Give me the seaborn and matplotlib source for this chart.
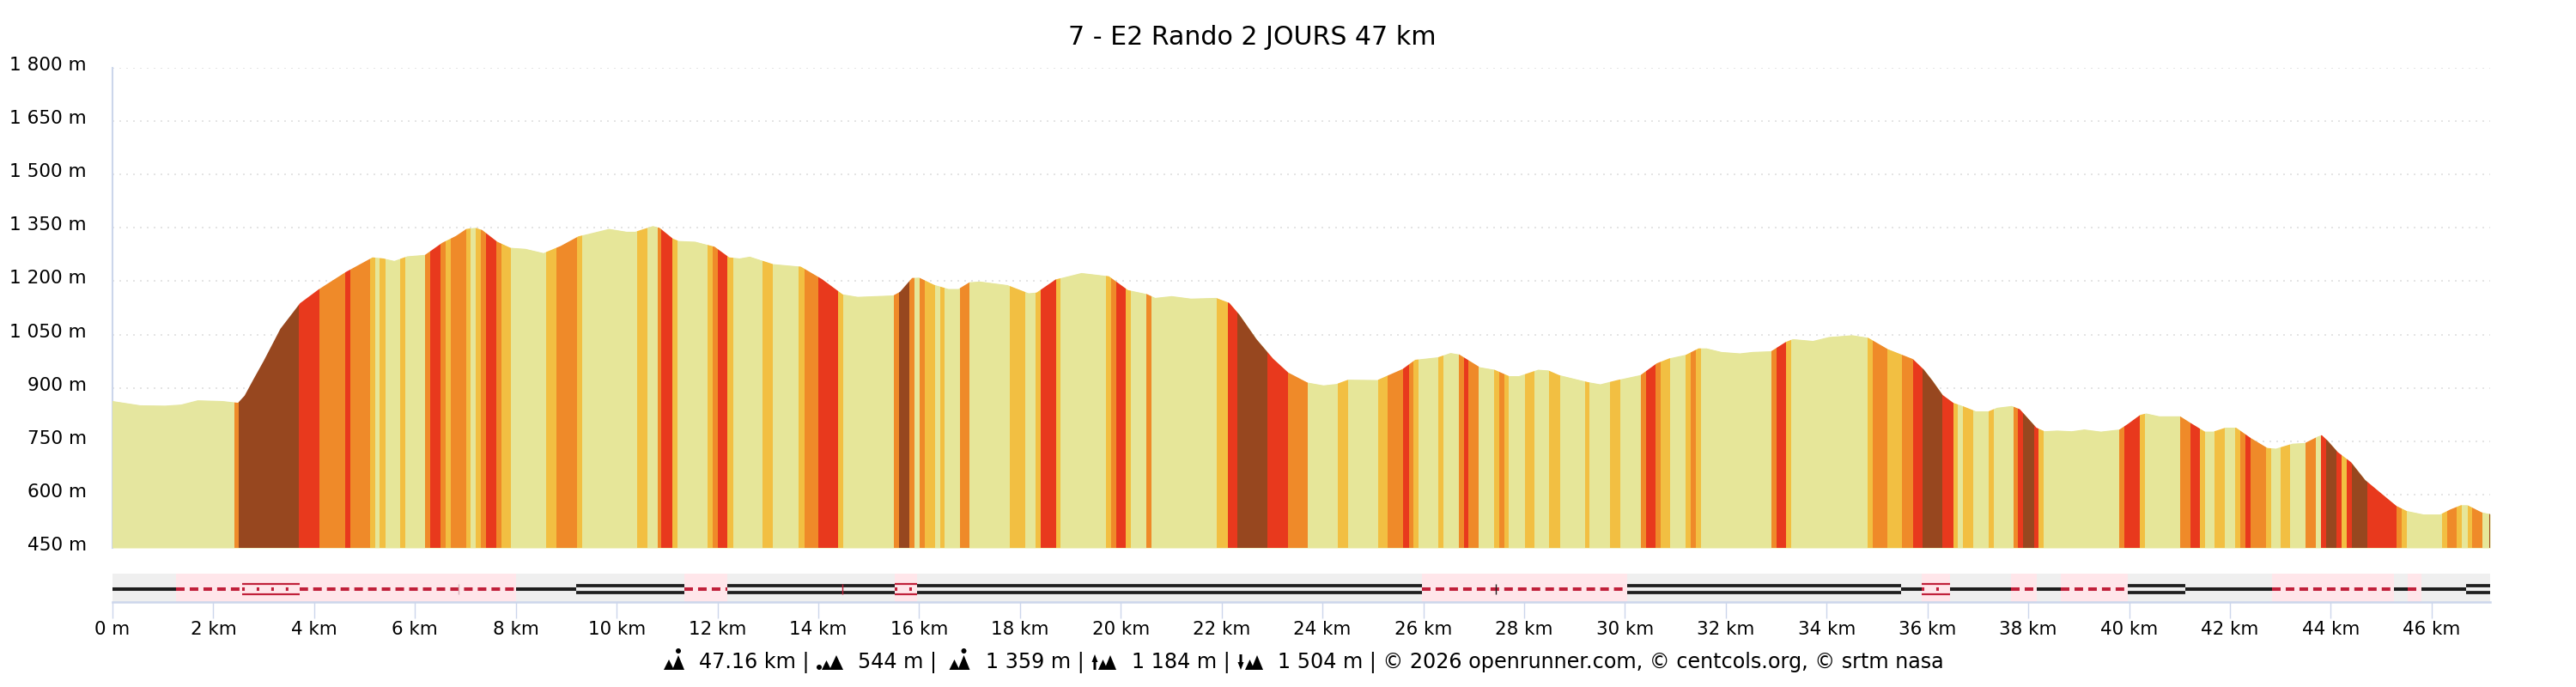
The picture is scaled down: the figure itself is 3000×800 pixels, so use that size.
import numpy as np
import pandas as pd
import matplotlib
matplotlib.use('Agg')
import matplotlib.pyplot as plt
from matplotlib.patches import Polygon, Ellipse
from matplotlib.transforms import ScaledTranslation
import seaborn as sns

# elevation profile
KM = [0, 0.55, 1.04, 1.36, 1.69, 2.18, 2.49, 2.62, 2.8, 3.0, 3.33, 3.72, 4.09, 4.63, 5.16, 5.37, 5.59, 5.85, 6.2,
      6.54, 6.81, 7.02, 7.2, 7.33, 7.63, 7.89, 8.19, 8.55, 8.89, 9.24, 9.85, 10.2, 10.37, 10.72, 10.85, 11.11,
      11.23, 11.56, 11.94, 12.23, 12.44, 12.64, 13.1, 13.65, 14.07, 14.48, 14.78, 15.49, 15.62, 15.86, 16.0,
      16.29, 16.58, 16.78, 17.0, 17.21, 17.75, 18.17, 18.33, 18.71, 19.22, 19.76, 20.14, 20.51, 20.68, 21.01,
      21.39, 21.89, 22.15, 22.35, 22.69, 23.02, 23.32, 23.7, 24.02, 24.28, 24.51, 25.09, 25.59, 25.84, 26.29,
      26.54, 26.71, 27.12, 27.41, 27.7, 27.9, 28.28, 28.48, 28.69, 29.27, 29.51, 29.85, 30.31, 30.63, 30.88,
      31.21, 31.46, 31.62, 31.91, 32.28, 32.53, 32.9, 33.19, 33.33, 33.73, 34.05, 34.51, 34.82, 35.21, 35.71,
      35.93, 36.1, 36.3, 36.51, 36.71, 36.96, 37.21, 37.38, 37.67, 37.83, 38.16, 38.32, 38.57, 38.86, 39.11,
      39.44, 39.81, 39.97, 40.22, 40.34, 40.6, 41.01, 41.21, 41.5, 41.67, 41.91, 42.12, 42.41, 42.74, 42.91,
      43.24, 43.49, 43.74, 43.82, 43.94, 44.14, 44.4, 44.68, 45.01, 45.3, 45.5, 45.84, 46.17, 46.37, 46.58,
      46.71, 46.99, 47.16]
ELEV = [863, 851, 850, 853, 865, 863, 858, 878, 925, 976, 1066, 1138, 1177, 1226, 1267, 1264, 1257, 1270, 1274,
        1308, 1327, 1347, 1350, 1344, 1311, 1294, 1291, 1279, 1299, 1326, 1347, 1339, 1339, 1355, 1350, 1320,
        1313, 1311, 1297, 1267, 1264, 1269, 1248, 1241, 1206, 1163, 1156, 1160, 1170, 1209, 1210,
        1190, 1178, 1178, 1197, 1199, 1189, 1166, 1168, 1205, 1223, 1214, 1175, 1164, 1153, 1158,
        1151, 1153, 1139, 1106, 1037, 982, 943, 915, 907, 911, 923, 922, 953, 979, 986,
        998, 994, 958, 951, 933, 933, 951, 949, 936, 916, 910, 922, 936, 969, 983,
        993, 1011, 1011, 1001, 997, 1001, 1003, 1029, 1037, 1032, 1043, 1048, 1041, 1009, 981,
        951, 920, 880, 858, 848, 834, 834, 844, 849, 840, 788, 778, 780, 778, 783,
        777, 783, 798, 824, 828, 820, 820, 802, 777, 777, 788, 788, 759, 731, 729,
        743, 745, 763, 767, 751, 719, 691, 641, 602, 568, 554, 544, 544, 558, 570,
        570, 550, 545]

# slope classes: where each band ends and what class it is
SEG_END = [2.42, 2.5, 3.7, 4.1, 4.61, 4.71, 5.11, 5.21, 5.3, 5.41, 5.71, 5.81, 6.2, 6.3, 6.51, 6.6, 6.71, 7.01, 7.1,
           7.21, 7.31, 7.41, 7.62, 7.71, 7.9, 8.6, 8.81, 9.21, 9.31, 10.41, 10.61, 10.81, 10.89, 11.11, 11.21,
           11.81, 11.91, 12.0, 12.2, 12.31, 12.9, 13.1, 13.61, 13.72, 14.0, 14.4, 14.5, 15.5, 15.6, 15.81, 15.91,
           16.01, 16.11, 16.31, 16.41, 16.51, 16.81, 17.0, 17.8, 18.11, 18.31, 18.41, 18.71, 18.81, 19.71, 19.81,
           19.91, 20.1, 20.2, 20.51, 20.6, 21.91, 22.12, 22.31, 22.91, 23.32, 23.7, 24.31, 24.5, 25.11, 25.3,
           25.6, 25.71, 25.81, 25.91, 26.3, 26.4, 26.71, 26.8, 26.9, 27.1, 27.41, 27.51, 27.61, 27.7, 28.01,
           28.2, 28.5, 28.71, 29.21, 29.3, 29.7, 29.9, 30.31, 30.41, 30.61, 30.7, 30.9, 31.21, 31.31, 31.41,
           31.5, 32.9, 33.0, 33.2, 33.3, 34.82, 34.91, 35.2, 35.5, 35.71, 35.91, 36.3, 36.51, 36.6, 36.7,
           36.9, 37.21, 37.31, 37.7, 37.8, 37.9, 38.11, 38.2, 38.31, 39.8, 39.91, 40.21, 40.31, 41.01, 41.21,
           41.4, 41.5, 41.7, 41.9, 42.11, 42.2, 42.3, 42.4, 42.71, 42.81, 43.0, 43.2, 43.5, 43.7, 43.8,
           43.9, 44.11, 44.21, 44.31, 44.41, 44.72, 45.3, 45.4, 45.5, 46.21, 46.3, 46.5, 46.6, 46.71, 46.8,
           47.0, 47.15, 47.16]
SEG_CLASS = ['P', 'O', 'B', 'R', 'O', 'R', 'O', 'Y', 'L', 'Y', 'L', 'Y', 'L', 'O', 'R', 'O', 'Y', 'O', 'Y',
             'L', 'Y', 'O', 'R', 'O', 'Y', 'L', 'Y', 'O', 'Y', 'L', 'Y', 'L', 'O', 'R', 'Y',
             'L', 'Y', 'O', 'R', 'Y', 'L', 'Y', 'L', 'Y', 'O', 'R', 'Y', 'L', 'O', 'B', 'O',
             'L', 'O', 'Y', 'L', 'Y', 'L', 'O', 'L', 'Y', 'L', 'Y', 'R', 'Y', 'L', 'Y',
             'O', 'R', 'Y', 'L', 'O', 'L', 'Y', 'R', 'B', 'R', 'O', 'L', 'Y', 'L', 'Y',
             'O', 'R', 'O', 'Y', 'L', 'Y', 'L', 'O', 'R', 'O', 'L', 'Y', 'O', 'Y', 'L',
             'Y', 'L', 'Y', 'L', 'Y', 'L', 'Y', 'L', 'O', 'R', 'O', 'Y', 'L', 'Y', 'O',
             'Y', 'L', 'O', 'R', 'Y', 'L', 'Y', 'O', 'Y', 'O', 'R', 'B', 'R', 'Y', 'L',
             'Y', 'L', 'Y', 'L', 'O', 'R', 'B', 'R', 'Y', 'L', 'O', 'R', 'Y', 'L', 'O',
             'R', 'Y', 'L', 'Y', 'L', 'Y', 'O', 'R', 'O', 'Y', 'L', 'Y', 'L', 'O', 'L',
             'R', 'B', 'R', 'Y', 'R', 'B', 'R', 'O', 'Y', 'L', 'Y', 'O', 'Y', 'L', 'Y',
             'O', 'L', 'B']
CLASS_COLORS = {'P': '#E5E69F', 'L': '#E6E699', 'Y': '#F2BF42', 'O': '#EF8A29', 'R': '#E8391D', 'B': '#97471F'}

# surface strip under the profile
TRACK_END = [1.26, 8.0, 9.2, 11.34, 12.19, 15.52, 15.96, 25.98, 30.05, 35.48, 35.88, 36.44, 37.66, 38.16,
             38.65, 39.98, 41.11, 42.84, 45.25, 45.53, 45.8, 46.68, 47.16]
TRACK_KIND = ['single', 'red', 'single', 'double', 'red', 'double', 'redrail', 'double', 'red', 'double',
              'single', 'redrail', 'single', 'red', 'single', 'red', 'double', 'single', 'red', 'single',
              'red', 'single', 'double']
RAIL_START = [2.57]
RAIL_END = [3.71]
NOTCH_KM = [6.87, 14.48, 27.44]
NOTCH_COLOR = ['#D9B0B8', '#C0203A', '#1E1E1E']

Y_TICKS = [450, 600, 750, 900, 1050, 1200, 1350, 1500, 1650, 1800]
Y_LABELS = ['450 m', '600 m', '750 m', '900 m', '1 050 m', '1 200 m', '1 350 m', '1 500 m', '1 650 m', '1 800 m']
X_TICKS = list(range(0, 47, 2))
X_LABELS = ['0 m'] + [f'{k} km' for k in X_TICKS[1:]]

TITLE = '7 - E2 Rando 2 JOURS 47 km'
FOOTER = ['47.16 km |', '544 m |', '1 359 m |', '1 184 m |',
          '1 504 m | © 2026 openrunner.com, © centcols.org, © srtm nasa']
FOOTER_X = [814, 999, 1148, 1317.6, 1488.5]

sns.set_theme(style='white', rc={'lines.solid_capstyle': 'butt', 'lines.scale_dashes': False})
plt.rcParams['font.family'] = ['DejaVu Sans']

AXIS_BLUE = '#CCD6EB'
RED = '#C0203A'
BLACK = '#1E1E1E'
W, H = 3000, 800


def box(x0, x1, y0, y1):
    return [x0 / W, 1 - y1 / H, (x1 - x0) / W, (y1 - y0) / H]


def px(x, y):
    return (x / W, 1 - y / H)


fig = plt.figure(figsize=(30, 8), dpi=100, facecolor='white')
ax = fig.add_axes(box(131, 2900, 79, 638))
strip = fig.add_axes(box(131, 2900, 668, 701))

# profile: one bar per slope band, cut by the profile outline
profile = ax.fill_between(KM, ELEV, 450, color=CLASS_COLORS['L'], lw=0, zorder=2)
outline = profile.get_paths()[0]
seg_start = [0] + SEG_END[:-1]
bars = ax.bar(seg_start, 1350, width=np.diff([0] + SEG_END), bottom=450, align='edge',
              color=[CLASS_COLORS[c] for c in SEG_CLASS], linewidth=0, zorder=3)
for b in bars:
    b.set_clip_path(outline, ax.transData)

ax.set_xlim(0, 47.16)
ax.set_ylim(450, 1800)
ax.set_yticks(Y_TICKS)
ax.set_yticklabels(Y_LABELS, fontsize=15.6, color='black')
ax.set_xticks([])
ax.tick_params(axis='y', length=0, pad=21.6)
ax.grid(axis='y', color='#E4E4E4', linewidth=1.4, linestyle=(0, (1.44, 4.32)))
ax.set_axisbelow(True)
for side in ['top', 'right', 'bottom']:
    ax.spines[side].set_visible(False)
ax.spines['left'].set_color(AXIS_BLUE)
ax.spines['left'].set_linewidth(1.5)
shift = ScaledTranslation(0, 3 / 100, fig.dpi_scale_trans)
for lab in ax.get_yticklabels():
    lab.set_transform(lab.get_transform() + shift)
    lab.set_verticalalignment('center')

# surface strip
track_start = [0] + TRACK_END[:-1]
tracks = pd.DataFrame({'start': track_start, 'end': TRACK_END, 'kind': TRACK_KIND})
for row in tracks.itertuples():
    is_red = row.kind.startswith('red')
    strip.axvspan(row.start, row.end, color='#FFE6EA' if is_red else '#EFEFEF', lw=0, zorder=1)
    xs = [row.start, row.end]
    if row.kind == 'single':
        sns.lineplot(x=xs, y=[0, 0], color=BLACK, lw=2.9, ax=strip, legend=False, zorder=3)
    elif row.kind == 'double':
        for y in [-4, 4]:
            sns.lineplot(x=xs, y=[y, y], color=BLACK, lw=2.7, ax=strip, legend=False, zorder=3)
    elif row.kind == 'red':
        sns.lineplot(x=xs, y=[0, 0], color=RED, lw=2.9, linestyle=(0, (7.2, 4.3)), ax=strip, legend=False, zorder=3)
    else:
        for y in [-6, 6]:
            sns.lineplot(x=xs, y=[y, y], color=RED, lw=1.6, ax=strip, legend=False, zorder=3)
        sns.lineplot(x=xs, y=[0, 0], color=RED, lw=2.9, linestyle=(0, (2.2, 10)), ax=strip, legend=False, zorder=3)

# double rail stretch inside the first dashed section
for a, b in zip(RAIL_START, RAIL_END):
    strip.axvspan(a, b, ymin=0.1, ymax=0.9, color='#FFE6EA', lw=0, zorder=3.5)
    for y in [-6, 6]:
        sns.lineplot(x=[a, b], y=[y, y], color=RED, lw=1.6, ax=strip, legend=False, zorder=4)
    sns.lineplot(x=[a, b], y=[0, 0], color=RED, lw=2.9, linestyle=(0, (2.2, 10)), ax=strip, legend=False, zorder=4)

for k, c in zip(NOTCH_KM, NOTCH_COLOR):
    strip.vlines(k, -6, 6, color=c, lw=1.0, zorder=5)

strip.set_xlim(0, 47.16)
strip.set_ylim(15.3, -17.7)
strip.set_yticks([])
strip.set_xticks(X_TICKS)
strip.set_xticklabels(X_LABELS, fontsize=15.4, color='black')
strip.tick_params(axis='x', length=13.7, width=1.0, color=AXIS_BLUE, pad=2, bottom=True)
strip.set_xlabel('')
for side in ['top', 'right', 'left']:
    strip.spines[side].set_visible(False)
strip.spines['bottom'].set_color(AXIS_BLUE)
strip.spines['bottom'].set_linewidth(1.8)

fig.text(1458 / W, 1 - 44 / H, TITLE, ha='center', va='center', fontsize=21.6, color='black')
for x, s in zip(FOOTER_X, FOOTER):
    fig.text(x / W, 1 - 772 / H, s, ha='left', va='center', fontsize=17.2, color='black')


# small mountain pictograms of the footer
def tri(x0, x1, peak):
    fig.add_artist(Polygon([px(x0, 780), px((x0 + x1) / 2, peak), px(x1, 780)], closed=True,
                           transform=fig.transFigure, fc='black', ec='none'))


def dot(x, y):
    fig.add_artist(Ellipse(px(x, y), 6 / W, 6 / H, transform=fig.transFigure, fc='black', ec='none'))


def arrow(x, up):
    tip, tail = (762, 780) if up else (780, 762)
    mid = (tip + tail) / 2
    fig.add_artist(Polygon([px(x - 1.5, tail), px(x + 1.5, tail), px(x + 1.5, mid), px(x + 3.5, mid),
                            px(x, tip), px(x - 3.5, mid), px(x - 1.5, mid)],
                           closed=True, transform=fig.transFigure, fc='black', ec='none'))


for x0 in [773, 1105.5]:
    tri(x0, x0 + 12, 768)
    tri(x0 + 10, x0 + 24, 763)
    dot(x0 + 17, 758)
dot(954, 777)
tri(957, 968, 769)
tri(966, 982, 763)
arrow(1275, True)
tri(1279, 1290, 768)
tri(1286, 1300, 763)
arrow(1445, False)
tri(1450, 1461, 768)
tri(1457, 1471, 763)

fig.savefig('out.png', dpi=100)
